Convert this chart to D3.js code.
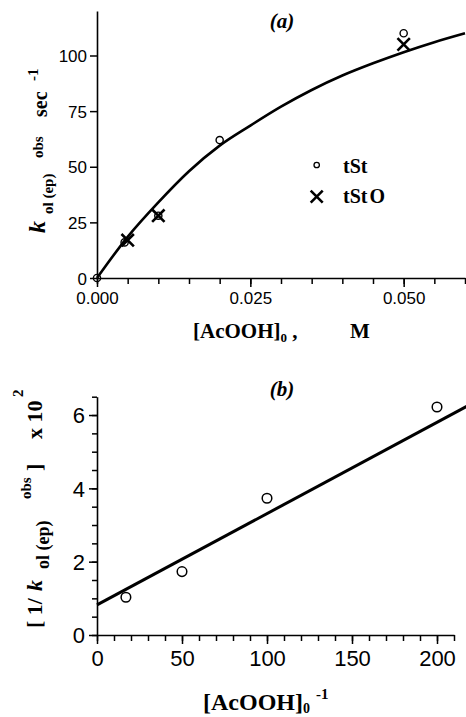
<html>
<head>
  <title>kol(ep) vs [AcOOH]0</title>
  <script src="https://d3js.org/d3.v7.min.js"></script>
  <style>
    body { margin: 0; background: #fff; }
    text { fill: #000; }
    .tick text { font-family: "Liberation Sans", Arial, sans-serif; }
    .ser { font-family: "Liberation Serif", "Times New Roman", serif; font-weight: bold; }
  </style>
</head>
<body>
  <script>
    var w = 466, h = 717;

    // panel (a): rate constant vs peracid concentration
    var tStX = [0, 0.0045, 0.01, 0.02, 0.05];
    var tStY = [0, 16, 28, 62, 110];
    var tStOX = [0.005, 0.01, 0.05];
    var tStOY = [17, 28, 105];
    // fitted curve
    var fitAX = [0, 0.005, 0.01, 0.015, 0.02, 0.025, 0.03, 0.035, 0.04, 0.045, 0.05, 0.055, 0.06];
    var fitAY = [0, 18.5, 34, 48, 59.5, 68.5, 77, 84.5, 91, 96.5, 101.5, 106, 110];
    var aXMajor = [0, 0.025, 0.05];
    var aYMajor = [0, 25, 50, 75, 100];

    // panel (b): double reciprocal plot
    var invX = [17, 50, 100, 200];
    var invY = [1.03, 1.73, 3.73, 6.22];
    var fitBX = [0, 220];
    var fitBY = [0.82, 6.30];
    var bXMajor = [0, 50, 100, 150, 200];
    var bYMajor = [0, 2, 4, 6];

    var svg = d3.select("body").append("svg").attr("width", w).attr("height", h);

    var xa = d3.scaleLinear().domain([0, 0.06]).range([97, 465]);
    var ya = d3.scaleLinear().domain([0, 120]).range([278, 11]);
    var xb = d3.scaleLinear().domain([0, 210]).range([97, 454]);
    var yb = d3.scaleLinear().domain([0, 6.5]).range([635, 396.7]);

    function styleAxis(g) {
      g.selectAll("path, line").attr("stroke", "#000").attr("stroke-width", 1.5);
      g.select(".domain").attr("stroke-width", 1.6);
    }

    // panel (a) axes
    var ga = svg.append("g");
    ga.append("g").attr("transform", "translate(0,278)")
      .call(d3.axisBottom(xa).tickValues(d3.range(0, 0.0601, 0.005)).tickSize(6).tickSizeOuter(0).tickFormat(""))
      .call(styleAxis);
    ga.append("g").attr("transform", "translate(0,278)")
      .call(d3.axisBottom(xa).tickValues(aXMajor).tickSize(9).tickSizeOuter(0).tickPadding(5).tickFormat(d3.format(".3f")))
      .call(styleAxis)
      .call(function(g){ g.select(".domain").remove(); g.selectAll("text").attr("font-size", 17); });
    ga.append("g").attr("transform", "translate(97,0)")
      .call(d3.axisLeft(ya).tickValues(aYMajor).tickSize(7).tickSizeOuter(0).tickPadding(3).tickFormat(d3.format("d")))
      .call(styleAxis)
      .call(function(g){ g.selectAll("text").attr("font-size", 17).attr("dy", "0.36em"); });

    var lineA = d3.line().x(function(d){ return xa(d[0]); }).y(function(d){ return ya(d[1]); })
      .curve(d3.curveMonotoneX);
    svg.append("path").datum(d3.zip(fitAX, fitAY)).attr("d", lineA)
      .attr("fill", "none").attr("stroke", "#000").attr("stroke-width", 2.6);

    svg.selectAll("circle.tst").data(d3.zip(tStX, tStY)).enter().append("circle")
      .attr("class", "tst")
      .attr("cx", function(d){ return xa(d[0]); }).attr("cy", function(d){ return ya(d[1]); })
      .attr("r", 3.6).attr("fill", "none").attr("stroke", "#000").attr("stroke-width", 1.4);

    function cross(sel, s) {
      sel.append("path").attr("d", "M" + (-s) + "," + (-s) + "L" + s + "," + s + "M" + (-s) + "," + s + "L" + s + "," + (-s))
        .attr("stroke", "#000").attr("stroke-width", 2.6).attr("fill", "none");
    }
    svg.selectAll("g.tsto").data(d3.zip(tStOX, tStOY)).enter().append("g")
      .attr("class", "tsto")
      .attr("transform", function(d){ return "translate(" + xa(d[0]) + "," + ya(d[1]) + ")"; })
      .call(cross, 6.2);

    // legend
    svg.append("circle").attr("cx", 316.7).attr("cy", 165).attr("r", 2.7)
      .attr("fill", "none").attr("stroke", "#000").attr("stroke-width", 1.3);
    svg.append("text").attr("class", "ser").attr("x", 343).attr("y", 173).attr("font-size", 20).text("tSt");
    svg.append("g").attr("transform", "translate(316.7,196.7)").call(cross, 6);
    svg.append("text").attr("class", "ser").attr("x", 343).attr("y", 203).attr("font-size", 20)
      .text("tSt").append("tspan").attr("dx", 2).text("O");

    svg.append("text").attr("class", "ser").attr("x", 282).attr("y", 28).attr("font-size", 21)
      .attr("font-style", "italic").attr("text-anchor", "middle").text("(a)");

    // x title (a)
    var ta = svg.append("text").attr("class", "ser").attr("x", 193).attr("y", 338).attr("font-size", 21);
    ta.append("tspan").text("[AcOOH]");
    ta.append("tspan").attr("font-size", 13).attr("dy", 4).text("0");
    ta.append("tspan").attr("dy", -4).text(" ,");
    svg.append("text").attr("class", "ser").attr("x", 350).attr("y", 338).attr("font-size", 21).text("M");

    // rotated pieces of the y titles
    function vtext(x, y, str, size, italic) {
      return svg.append("text").attr("class", "ser")
        .attr("transform", "translate(" + x + "," + y + ") rotate(-90)")
        .attr("font-size", size).attr("font-style", italic ? "italic" : "normal").text(str);
    }
    vtext(45, 233, "k", 24, true);
    vtext(53, 214, "ol (ep)", 15);
    vtext(43, 158, "obs", 15);
    vtext(47, 117, "sec", 20);
    vtext(38, 81, "-1", 15);

    // panel (b) axes
    var gb = svg.append("g");
    gb.append("g").attr("transform", "translate(0,635)")
      .call(d3.axisBottom(xb).tickValues(d3.range(0, 211, 10)).tickSize(6).tickSizeOuter(0).tickFormat(""))
      .call(styleAxis);
    gb.append("g").attr("transform", "translate(0,635)")
      .call(d3.axisBottom(xb).tickValues(bXMajor).tickSize(9).tickSizeOuter(0).tickPadding(6).tickFormat(d3.format("d")))
      .call(styleAxis)
      .call(function(g){ g.select(".domain").remove(); g.selectAll("text").attr("font-size", 22); });
    gb.append("g").attr("transform", "translate(97,0)")
      .call(d3.axisLeft(yb).tickValues(d3.range(0, 6.51, 0.5)).tickSize(5).tickSizeOuter(0).tickFormat(""))
      .call(styleAxis);
    gb.append("g").attr("transform", "translate(97,0)")
      .call(d3.axisLeft(yb).tickValues(bYMajor).tickSize(8).tickSizeOuter(0).tickPadding(4).tickFormat(d3.format("d")))
      .call(styleAxis)
      .call(function(g){ g.select(".domain").remove(); g.selectAll("text").attr("font-size", 22).attr("dy", "0.36em"); });

    var lineB = d3.line().x(function(d){ return xb(d[0]); }).y(function(d){ return yb(d[1]); });
    svg.append("path").datum(d3.zip(fitBX, fitBY)).attr("d", lineB)
      .attr("fill", "none").attr("stroke", "#000").attr("stroke-width", 3);

    svg.selectAll("circle.inv").data(d3.zip(invX, invY)).enter().append("circle")
      .attr("class", "inv")
      .attr("cx", function(d){ return xb(d[0]); }).attr("cy", function(d){ return yb(d[1]); })
      .attr("r", 4.8).attr("fill", "none").attr("stroke", "#000").attr("stroke-width", 1.5);

    svg.append("text").attr("class", "ser").attr("x", 282).attr("y", 396).attr("font-size", 21)
      .attr("font-style", "italic").attr("text-anchor", "middle").text("(b)");

    var tb = svg.append("text").attr("class", "ser").attr("x", 203).attr("y", 710).attr("font-size", 24);
    tb.append("tspan").text("[AcOOH]");
    tb.append("tspan").attr("font-size", 14).attr("dy", 3).text("0");
    tb.append("tspan").attr("font-size", 15).attr("dy", -14).attr("dx", 6).text("-1");

    vtext(42, 628, "[ 1/ ", 22);
    vtext(42, 591, "k", 22, true);
    vtext(49, 569, "ol (ep)", 18);
    vtext(31, 499, "obs", 15);
    vtext(42, 471, "]", 22);
    vtext(42, 439, "x 10", 22);
    vtext(23, 397, "2", 15);
  </script>
</body>
</html>
